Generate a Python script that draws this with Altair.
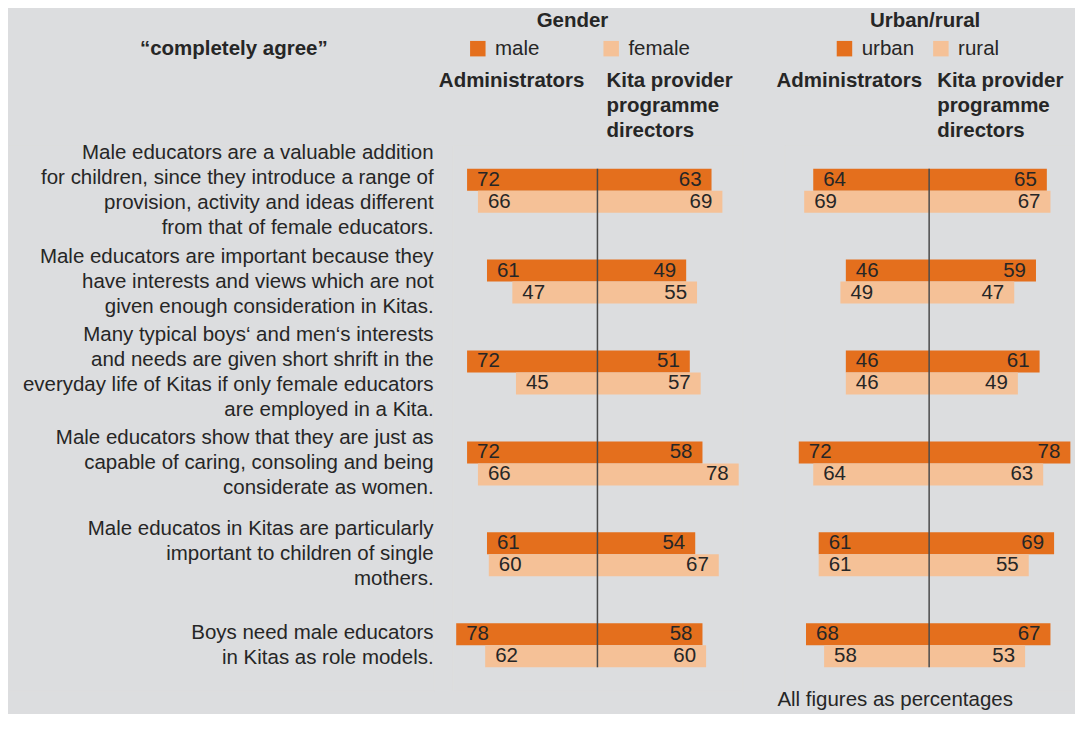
import altair as alt
import pandas as pd

# ---------------- data ----------------
statement_ids = ["s1", "s2", "s3", "s4", "s5", "s6"]
statements = [
    "Male educators are a valuable addition\nfor children, since they introduce a range of\nprovision, activity and ideas different\nfrom that of female educators.",
    "Male educators are important because they\nhave interests and views which are not\ngiven enough consideration in Kitas.",
    "Many typical boys\u2018 and men\u2018s interests\nand needs are given short shrift in the\neveryday life of Kitas if only female educators\nare employed in a Kita.",
    "Male educators show that they are just as\ncapable of caring, consoling and being\nconsiderate as women.",
    "Male educatos in Kitas are particularly\nimportant to children of single\nmothers.",
    "Boys need male educators\nin Kitas as role models.",
]

gender_series = ["male", "female"]
urban_series = ["urban", "rural"]

# Administrators (left side) / Kita provider programme directors (right side)
gender_admin_male = [72, 61, 72, 72, 61, 78]
gender_admin_female = [66, 47, 45, 66, 60, 62]
gender_dir_male = [63, 49, 51, 58, 54, 58]
gender_dir_female = [69, 55, 57, 78, 67, 60]

urban_admin_urban = [64, 46, 46, 72, 61, 68]
urban_admin_rural = [69, 49, 46, 64, 61, 58]
urban_dir_urban = [65, 59, 61, 78, 69, 67]
urban_dir_rural = [67, 47, 49, 63, 55, 53]

# ---------------- style ----------------
DARK = "#E46F1D"
LIGHT = "#F5C197"
BG = "#DCDDDF"
TXT = "#262626"
FONT = "Liberation Sans"
FS = 20.5
LH = 25

N = len(statement_ids)
STEP = 91
H = STEP * N
BAR_GROUP = 44
PI = 1 - BAR_GROUP / STEP
PO = PI / 2
RULE_TOP = STEP * PO
RULE_BOTTOM = H - STEP * PO
PW = 290  # panel width
LW = 425  # label panel width


def build_frame(admin_dark, admin_light, dir_dark, dir_light, names):
    rows = []
    for i, sid in enumerate(statement_ids):
        for order, (name, adm, dr) in enumerate(
            [(names[0], admin_dark, dir_dark), (names[1], admin_light, dir_light)]
        ):
            rows.append(dict(sid=sid, series=name, order=order, role="admin",
                             value=adm[i], signed=-adm[i]))
            rows.append(dict(sid=sid, series=name, order=order, role="dir",
                             value=dr[i], signed=dr[i]))
    return pd.DataFrame(rows)


yscale = alt.Scale(domain=statement_ids, paddingInner=PI, paddingOuter=PO)


def text_layer(text, x, y, align="center", bold=False, line_break=None):
    kw = dict(align=align, baseline="middle", font=FONT, fontSize=FS,
              color=TXT, fontWeight="bold" if bold else "normal", lineHeight=LH)
    if line_break:
        kw["lineBreak"] = line_break
    return alt.Chart(pd.DataFrame({"t": [text]})).mark_text(**kw).encode(
        text="t:N", x=alt.value(x), y=alt.value(y)
    )


def panel(df, names, title, title_x, legend_x, colpad, admin_x, kita_x, extra=None):
    base = alt.Chart(df)
    y = alt.Y("sid:N", sort=statement_ids, axis=None, scale=yscale)
    yoff = alt.YOffset("order:O", scale=alt.Scale(paddingInner=0, paddingOuter=0))
    x = alt.X("signed:Q", axis=None, scale=alt.Scale(domain=[-80, 80], nice=False))
    bars = base.mark_bar().encode(
        x=x, y=y, yOffset=yoff,
        color=alt.Color(
            "series:N",
            scale=alt.Scale(domain=names, range=[DARK, LIGHT]),
            legend=alt.Legend(
                title=None, orient="none", legendX=legend_x, legendY=-107,
                direction="horizontal", symbolType="square", symbolSize=240,
                symbolStrokeWidth=0, labelFont=FONT, labelFontSize=FS,
                labelColor=TXT, columnPadding=colpad, labelOffset=7, padding=0,
            ),
        ),
    )
    rule = alt.Chart(pd.DataFrame({"c": [0]})).mark_rule(
        color="#4a4a4a", strokeWidth=1.5
    ).encode(x=alt.X("c:Q", axis=None), y=alt.value(RULE_TOP), y2=alt.value(RULE_BOTTOM))
    lab_left = base.transform_filter(alt.datum.role == "admin").mark_text(
        align="left", baseline="middle", dx=10, font=FONT, fontSize=FS, color=TXT
    ).encode(x=x, y=y, yOffset=yoff, text="value:Q")
    lab_right = base.transform_filter(alt.datum.role == "dir").mark_text(
        align="right", baseline="middle", dx=-10, font=FONT, fontSize=FS, color=TXT
    ).encode(x=x, y=y, yOffset=yoff, text="value:Q")
    layers = [
        bars, rule, lab_left, lab_right,
        text_layer(title, title_x, -124.5, bold=True),
        text_layer("Administrators", admin_x, -64.5, align="right", bold=True),
        text_layer("Kita provider\nprogramme\ndirectors", kita_x, -64.5,
                   align="left", bold=True, line_break="\n"),
    ]
    if extra is not None:
        layers.append(extra)
    return alt.layer(*layers).properties(width=PW, height=H)


gender_df = build_frame(gender_admin_male, gender_admin_female,
                        gender_dir_male, gender_dir_female, gender_series)
urban_df = build_frame(urban_admin_urban, urban_admin_rural,
                       urban_dir_urban, urban_dir_rural, urban_series)

gender_panel = panel(gender_df, gender_series, "Gender", 120, 15, 61.5, 132, 154)
urban_panel = panel(urban_df, urban_series, "Urban/rural", 141, 50, 16.5, 138, 153,
                    extra=text_layer("All figures as percentages", 111, 555.5))

label_df = pd.DataFrame({"sid": statement_ids, "label": statements})
label_df["nlines"] = label_df["label"].str.count("\n") + 1

label_layers = []
for n in sorted(label_df["nlines"].unique()):
    label_layers.append(
        alt.Chart(label_df).transform_filter(alt.datum.nlines == int(n)).mark_text(
            align="right", baseline="middle", font=FONT, fontSize=FS, color=TXT,
            lineBreak="\n", lineHeight=LH, dy=-(int(n) - 1) * LH / 2,
        ).encode(y=alt.Y("sid:N", sort=statement_ids, axis=None, scale=yscale),
                 x=alt.value(LW), text="label:N")
    )

labels = alt.layer(
    *label_layers,
    text_layer("\u201ccompletely agree\u201d", 225, -96.5, bold=True),
).properties(width=LW, height=H)

inner = alt.hconcat(gender_panel, urban_panel, spacing=42, bounds="flush").resolve_scale(
    color="independent", x="independent"
)

chart = alt.hconcat(labels, inner, spacing=19, bounds="flush").properties(
    padding={"left": 0, "top": 2, "right": 0, "bottom": 2},
    background=BG,
).configure_view(stroke=None).configure(font=FONT)

chart.save("out.html", embed_options={"renderer": "svg", "actions": False})
